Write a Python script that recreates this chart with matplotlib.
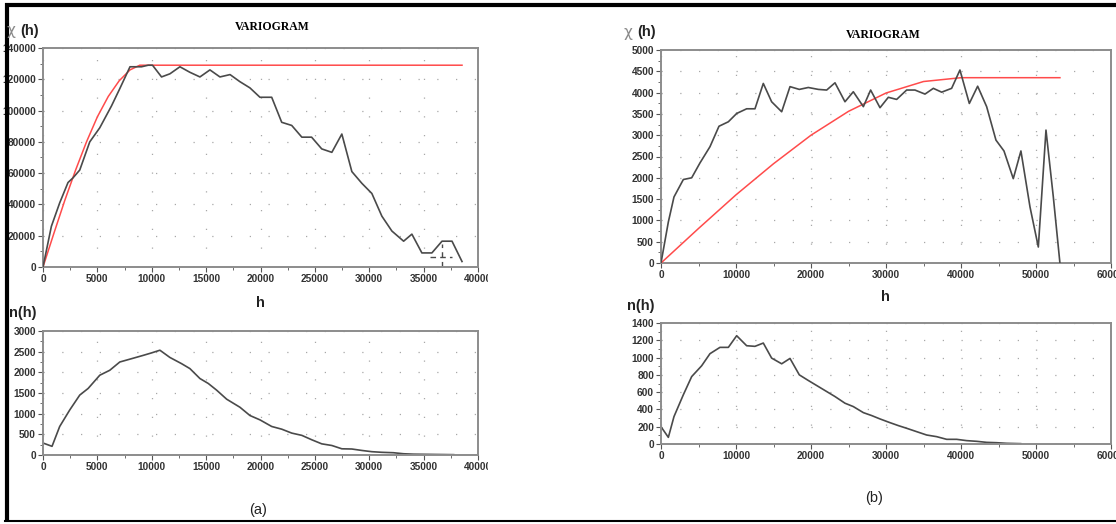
#!/usr/bin/env python3
import matplotlib
matplotlib.use("Agg")
import matplotlib.pyplot as plt
from matplotlib.patches import Rectangle
from matplotlib.ticker import MultipleLocator

# (a) experimental variogram
a_h = [0, 770, 1535, 2300, 2760, 3380, 4300, 5220, 6300, 7060, 8000, 9060, 9670,
       10070, 10900, 11670, 12590, 13500, 14430, 15350, 16270, 17200, 18100, 19030,
       19950, 21030, 21950, 22870, 23800, 24700, 25630, 26560, 27480, 28400, 29320,
       30240, 31160, 32080, 33160, 33920, 34840, 35760, 36690, 37610, 38530]
a_gamma = [0, 26000, 41000, 54000, 57000, 62000, 80000, 89000, 103000, 114000, 128000,
           128000, 129000, 129000, 121500, 123500, 128000, 124500, 121500, 126000,
           121500, 123000, 118500, 114500, 108500, 108500, 92500, 90500, 83000, 83000,
           75500, 73300, 85000, 61000, 53500, 47000, 32500, 23000, 16500, 21000, 9000,
           9000, 16500, 16500, 3500]
# (a) fitted model (red)
a_model_h = [0, 1000, 2000, 3000, 4000, 5000, 6000, 7000, 8000, 8900, 38530]
a_model_gamma = [0, 21500, 42500, 62000, 80000, 96000, 109000, 119000, 126000, 129000, 129000]
# (a) small dashed marker near the tail
a_mark_h = [35600, 37600]
a_mark_gamma = [6400, 6400]
a_mark_vh = [36700, 36700]
a_mark_vgamma = [0, 15000]
# (a) pair counts
a_n_h = [0, 830, 1535, 2460, 3380, 4150, 5220, 6140, 7060, 8140, 9210, 9980, 10750,
         11670, 12740, 13510, 14430, 15200, 15960, 16890, 18110, 19030, 19950, 21030,
         21950, 22870, 23800, 24700, 25630, 26560, 27480, 28400, 29320, 30240, 31160,
         32230, 33160, 34080, 35610, 37760]
a_n = [290, 210, 690, 1090, 1450, 1610, 1930, 2050, 2250, 2330, 2410, 2470, 2535, 2360,
       2210, 2090, 1850, 1730, 1570, 1350, 1155, 955, 850, 690, 625, 530, 475, 370, 270,
       230, 150, 145, 110, 80, 65, 55, 30, 20, 15, 8]

# (b) experimental variogram
b_h = [0, 980, 1730, 2980, 4090, 5200, 6530, 7730, 8980, 10090, 11420, 12530, 13640,
       14750, 16090, 17200, 18440, 19640, 20980, 22090, 23200, 24530, 25640, 26980,
       27950, 29200, 30310, 31420, 32750, 33860, 35200, 36310, 37420, 38750, 39860,
       41110, 42220, 43420, 44660, 45730, 46970, 47990, 49200, 50310, 51330, 52310, 53190]
b_gamma = [0, 964, 1550, 1960, 2000, 2350, 2730, 3210, 3315, 3510, 3620, 3620, 4215,
           3785, 3550, 4140, 4075, 4120, 4075, 4060, 4230, 3785, 4020, 3670, 4060, 3645,
           3890, 3840, 4060, 4060, 3965, 4100, 4010, 4100, 4530, 3745, 4150, 3670, 2885,
           2630, 1980, 2630, 1315, 375, 3120, 1550, 0]
# (b) fitted model (red)
b_model_h = [0, 5000, 10000, 15000, 20000, 25000, 30000, 35000, 40000, 53190]
b_model_gamma = [0, 810, 1600, 2330, 3000, 3560, 3990, 4260, 4350, 4350]
# (b) pair counts
b_n_h = [0, 980, 1730, 2980, 4090, 5420, 6530, 7860, 8980, 10090, 11420, 12530, 13640,
         14750, 16090, 17200, 18440, 19640, 20980, 22090, 23200, 24530, 25640, 26980,
         28090, 29200, 30530, 31640, 32750, 34080, 35420, 36750, 38090, 39420, 40750,
         42090, 43420, 44750, 46080, 47950]
b_n = [200, 77, 317, 570, 780, 905, 1045, 1118, 1118, 1253, 1137, 1130, 1168, 994, 928,
       990, 800, 735, 665, 607, 549, 472, 433, 363, 329, 290, 247, 213, 182, 143, 104, 85,
       54, 54, 39, 31, 19, 15, 8, 4]

W, H = 1116, 524
LINE = "#4a4a4a"
RED = "#ff4b4b"
TICKFONT = {"family": "Liberation Sans", "weight": "bold", "size": 7.3}


def px_axes(fig, left, top, right, bottom):
    """Add axes from pixel coordinates of the reference picture."""
    return fig.add_axes([left / W, 1 - bottom / H, (right - left) / W, (bottom - top) / H])


def style(ax, xmax, xmaj, xmin, ymax, ymaj, ymin):
    ax.set_xlim(0, xmax)
    ax.set_ylim(0, ymax)
    ax.xaxis.set_major_locator(MultipleLocator(xmaj))
    ax.xaxis.set_minor_locator(MultipleLocator(xmin))
    ax.yaxis.set_major_locator(MultipleLocator(ymaj))
    ax.yaxis.set_minor_locator(MultipleLocator(ymin))
    for s in ax.spines.values():
        s.set_color("#8c8c8c")
        s.set_linewidth(1.4)
    ax.tick_params(which="major", direction="out", length=3.5, width=0.8,
                   color="#555555", pad=1.5, labelcolor="#333333")
    ax.tick_params(which="minor", direction="out", length=2, width=0.6, color="#555555")
    ax.grid(True, which="major", color="#a8a8a8", linestyle=(0, (1, 14)), linewidth=0.9)
    for lbl in ax.get_xticklabels() + ax.get_yticklabels():
        lbl.set_fontfamily(TICKFONT["family"])
        lbl.set_fontweight(TICKFONT["weight"])
        lbl.set_fontsize(TICKFONT["size"])


fig = plt.figure(figsize=(W / 100, H / 100), dpi=100)

# ---- panel (a)
ax1 = px_axes(fig, 43, 48, 478, 267)
ax1.plot(a_model_h, a_model_gamma, color=RED, linewidth=1.1, zorder=3)
ax1.plot(a_h, a_gamma, color=LINE, linewidth=1.2, zorder=4)
ax1.plot(a_mark_h, a_mark_gamma, color=LINE, linewidth=1.0, linestyle=(0, (4, 3)))
ax1.plot(a_mark_vh, a_mark_vgamma, color=LINE, linewidth=1.0, linestyle=(0, (4, 3)))
style(ax1, 40000, 5000, 2500, 140000, 20000, 10000)

ax2 = px_axes(fig, 43, 331, 478, 455)
ax2.plot(a_n_h, a_n, color=LINE, linewidth=1.2)
style(ax2, 40000, 5000, 2500, 3000, 500, 250)

# ---- panel (b)
ax3 = px_axes(fig, 661, 50, 1111, 263)
ax3.plot(b_model_h, b_model_gamma, color=RED, linewidth=1.1, zorder=3)
ax3.plot(b_h, b_gamma, color=LINE, linewidth=1.2, zorder=4)
style(ax3, 60000, 10000, 5000, 5000, 500, 250)

ax4 = px_axes(fig, 661, 323, 1111, 444)
ax4.plot(b_n_h, b_n, color=LINE, linewidth=1.2)
style(ax4, 60000, 10000, 5000, 1400, 200, 100)

# the left panel's last x label is cut off in the reference: mask its tail
for top in (269, 457):
    fig.add_artist(Rectangle((488 / W, 1 - (top + 16) / H), 20 / W, 16 / H,
                             transform=fig.transFigure, facecolor="white",
                             edgecolor="none", zorder=10))

# ---- texts
def ftext(x, y, s, **kw):
    fig.text(x / W, 1 - y / H, s, **kw)

serif = dict(family="Liberation Serif", weight="bold", size=8.5, ha="center", va="center")
ftext(272, 27, "VARIOGRAM", **serif)
ftext(883, 35, "VARIOGRAM", **serif)

for x, y in ((6, 31), (623, 32)):
    ftext(x, y, "χ", family="DejaVu Sans", size=11, color="#8a8a8a", ha="left", va="center")
    ftext(x + 14, y, "(h)", family="Liberation Sans", weight="bold", size=10.5,
          color="#222222", ha="left", va="center")

lab = dict(family="Liberation Sans", weight="bold", size=10.5, color="#222222", va="center")
ftext(260, 303, "h", ha="center", **lab)
ftext(885, 297, "h", ha="center", **lab)
ftext(9, 313, "n(h)", ha="left", **lab)
ftext(627, 306, "n(h)", ha="left", **lab)

ftext(258, 510, "(a)", family="Liberation Sans", size=10.5, color="#222222", ha="center", va="center")
ftext(874, 498, "(b)", family="Liberation Sans", size=10.5, color="#222222", ha="center", va="center")

# ---- outer frame (top, left, bottom)
frame = dict(color="black", linewidth=3, solid_capstyle="butt")
fig.add_artist(plt.Line2D([5 / W, 1], [1 - 4.5 / H, 1 - 4.5 / H], transform=fig.transFigure, **frame))
fig.add_artist(plt.Line2D([6.5 / W, 6.5 / W], [1 - 3 / H, 1 - 522 / H], transform=fig.transFigure, **frame))
fig.add_artist(plt.Line2D([5 / W, 1], [1 - 521 / H, 1 - 521 / H], transform=fig.transFigure,
                          color="black", linewidth=1.5))

fig.savefig("out.png", dpi=100)
